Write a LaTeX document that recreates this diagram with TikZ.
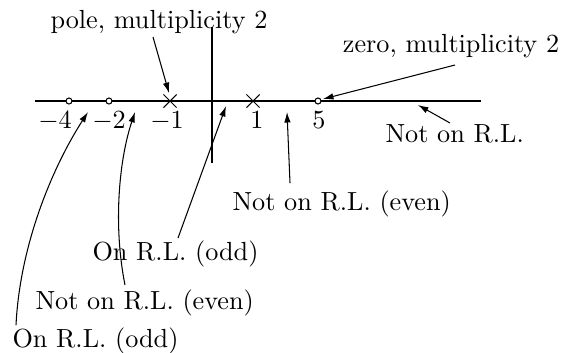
\documentclass[tikz,border=0pt]{standalone}
\usetikzlibrary{arrows.meta,shapes.misc}
\begin{document}
\begin{tikzpicture}[x=0.3817pt,y=-0.3817pt,
  zeromark/.style={circle,draw,inner sep=0pt,minimum size=2.3pt,line width=0.4pt},
  polemark/.style={cross out,draw,inner sep=0pt,minimum size=4.6pt,line width=0.4pt},
  lbl/.style={inner sep=0pt,anchor=base},
  lblw/.style={inner sep=0pt,anchor=base west},
  arr/.style={-{Latex[length=4pt,width=2.5pt]},line width=0.4pt},
  axisline/.style={line width=0.4pt}]
\useasboundingbox (0,0) rectangle (564,352);
% axes
\coordinate (axL) at (35,101);
\coordinate (axR) at (481,101);
\coordinate (vT) at (212,27);
\coordinate (vB) at (212,163);
\draw[axisline] (axL) -- (axR);
\draw[axisline] (vT) -- (vB);
\coordinate (dA) at (88,101);
\coordinate (dB) at (95,101);
\draw[line width=1pt] (dA) -- (dB);
% markers
\node[zeromark,fill=white] (z4) at (69,101) {};
\node[zeromark,fill=white] (z2) at (109,101) {};
\node[zeromark,fill=white] (z5) at (318,101) {};
\node[polemark] (p1) at (170,101) {};
\node[polemark] (q1) at (253,101) {};
% tick labels
\node[lbl] (t4) at (55,128) {$-4$};
\node[lbl] (t2) at (109,128) {$-2$};
\node[lbl] (t1) at (167,128) {$-1$};
\node[lbl] (u1) at (257,128) {$1$};
\node[lbl] (u5) at (319,128) {$5$};
% texts
\node[lbl] (pole) at (159,28) {pole, multiplicity 2};
\node[lbl] (zero) at (451,52) {zero, multiplicity 2};
\node[lblw] (nrl) at (385,142) {Not on R.L.};
\node[lblw] (nrle) at (232,210) {Not on R.L. (even)};
\node[lblw] (orlm) at (92,260) {On R.L. (odd)};
\node[lblw] (nrlb) at (35,309) {Not on R.L. (even)};
\node[lblw] (orlb) at (12,347) {On R.L. (odd)};
% arrow targets
\coordinate (a1s) at (153,37);  \coordinate (a1e) at (169,93);
\coordinate (a2s) at (455,65);  \coordinate (a2e) at (323,99);
\coordinate (a3s) at (450,123); \coordinate (a3e) at (418,105);
\coordinate (a4s) at (290,183); \coordinate (a4e) at (287,112);
\coordinate (a5s) at (178,238); \coordinate (a5e) at (226,106);
\coordinate (a6s) at (125,285); \coordinate (a6e) at (135,112);
\coordinate (a7s) at (16,325);  \coordinate (a7e) at (88,112);
\draw[arr] (a1s) -- (a1e);
\draw[arr] (a2s) -- (a2e);
\draw[arr] (a3s) -- (a3e);
\draw[arr] (a4s) -- (a4e);
\draw[arr] (a5s) -- (a5e);
\draw[arr] (a6s) .. controls (113,225) and (119,160) .. (a6e);
\draw[arr] (a7s) .. controls (20,245) and (52,168) .. (a7e);
\end{tikzpicture}
\end{document}
